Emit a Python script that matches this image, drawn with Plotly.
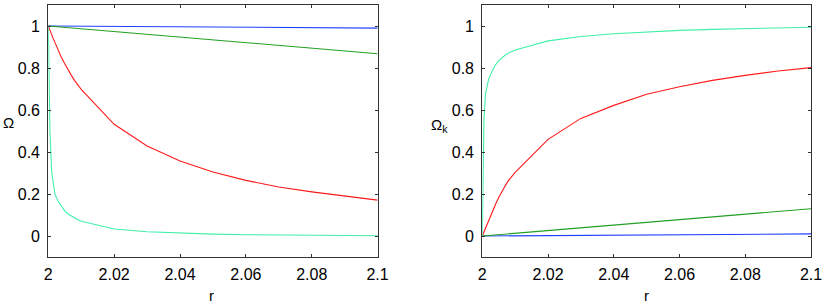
import plotly.graph_objects as go

# ---- data ----
r_fine = [2.0, 2.0002, 2.0005, 2.001, 2.0015, 2.002, 2.003, 2.004, 2.005, 2.006,
          2.007, 2.008, 2.009, 2.01, 2.02, 2.03, 2.04, 2.05, 2.06, 2.07, 2.08, 2.09, 2.1]
r_coarse = [2.0, 2.01, 2.02, 2.03, 2.04, 2.05, 2.06, 2.07, 2.08, 2.09, 2.1]

# left panel: Omega
omega_blue = [1.0, 0.999, 0.998, 0.997, 0.996, 0.995, 0.994, 0.993, 0.992, 0.991, 0.990]
omega_green = [1.0, 0.987, 0.974, 0.961, 0.948, 0.935, 0.922, 0.909, 0.895, 0.882, 0.868]
omega_red = [1.0, 0.99, 0.98, 0.96, 0.94, 0.92, 0.885, 0.85, 0.82, 0.79,
             0.765, 0.74, 0.716, 0.698, 0.532, 0.429, 0.357, 0.305, 0.265, 0.233, 0.21, 0.19, 0.171]
omega_cyan = [1.0, 0.75, 0.5, 0.31, 0.245, 0.2, 0.165, 0.14, 0.12, 0.105,
              0.095, 0.085, 0.077, 0.07, 0.033, 0.02, 0.013, 0.009, 0.006, 0.004, 0.003, 0.002, 0.001]

# right panel: Omega_k
omegak_blue = [0.0, 0.001, 0.002, 0.003, 0.004, 0.005, 0.006, 0.007, 0.008, 0.009, 0.010]
omegak_green = [0.0, 0.013, 0.026, 0.039, 0.052, 0.065, 0.078, 0.091, 0.104, 0.117, 0.130]
omegak_red = [0.0, 0.008, 0.02, 0.04, 0.06, 0.078, 0.115, 0.15, 0.183, 0.213,
              0.24, 0.265, 0.285, 0.303, 0.46, 0.56, 0.622, 0.675, 0.711, 0.741, 0.765, 0.786, 0.802]
omegak_cyan = [0.0, 0.32, 0.55, 0.68, 0.72, 0.75, 0.785, 0.815, 0.835, 0.85,
               0.862, 0.872, 0.879, 0.886, 0.929, 0.950, 0.963, 0.972, 0.979, 0.984, 0.988, 0.991, 0.994]

x_ticks = [2, 2.02, 2.04, 2.06, 2.08, 2.1]
x_ticklabels = ["2", "2.02", "2.04", "2.06", "2.08", "2.1"]
y_ticks = [0, 0.2, 0.4, 0.6, 0.8, 1]
y_ticklabels = ["0", "0.2", "0.4", "0.6", "0.8", "1"]

BLUE = "#2040ff"
GREEN = "#20a020"
RED = "#ff1a1a"
CYAN = "#40f0a8"

fig = go.Figure()

def add(x, y, color, xa, ya):
    fig.add_trace(go.Scatter(x=x, y=y, mode="lines", line=dict(color=color, width=1.1),
                             xaxis=xa, yaxis=ya, showlegend=False, hoverinfo="skip"))

add(r_coarse, omega_blue, BLUE, "x", "y")
add(r_coarse, omega_green, GREEN, "x", "y")
add(r_fine, omega_red, RED, "x", "y")
add(r_fine, omega_cyan, CYAN, "x", "y")

add(r_coarse, omegak_blue, BLUE, "x2", "y2")
add(r_coarse, omegak_green, GREEN, "x2", "y2")
add(r_fine, omegak_red, RED, "x2", "y2")
add(r_fine, omegak_cyan, CYAN, "x2", "y2")

W, H = 830, 308
ML, MR, MT, MB = 48, 19, 5, 51
PW, PH = W - ML - MR, H - MT - MB

def px(xpix):
    return (xpix - ML) / PW

def py(ypix):
    return 1 - (ypix - MT) / PH

FONT = "Liberation Sans, Arial, Helvetica"
axis_common = dict(showline=True, linecolor="#333333", linewidth=1.2, mirror="allticks",
                   ticks="inside", ticklen=3, tickcolor="#333333", showgrid=False,
                   zeroline=False, automargin=False,
                   tickfont=dict(family=FONT, size=16, color="black"))

fig.update_layout(
    width=W, height=H,
    margin=dict(l=ML, r=MR, t=MT, b=MB, pad=0),
    paper_bgcolor="white", plot_bgcolor="white",
    xaxis=dict(domain=[px(48.3), px(377.6)], range=[2, 2.1], tickvals=x_ticks,
               ticktext=x_ticklabels, anchor="y", ticklabelstandoff=3, **axis_common),
    yaxis=dict(domain=[0, 1], range=[-0.1, 1.1], tickvals=y_ticks, ticktext=y_ticklabels,
               anchor="x", ticklabelstandoff=4, **axis_common),
    xaxis2=dict(domain=[px(482.3), px(811)], range=[2, 2.1], tickvals=x_ticks,
                ticktext=x_ticklabels, anchor="y2", ticklabelstandoff=3, **axis_common),
    yaxis2=dict(domain=[0, 1], range=[-0.1, 1.1], tickvals=y_ticks, ticktext=y_ticklabels,
                anchor="x2", ticklabelstandoff=4, **axis_common),
)

font_t = dict(family=FONT, size=15, color="black")
fig.add_annotation(text="Ω", x=px(8.5), y=py(122), xref="paper", yref="paper",
                   showarrow=False, font=font_t, xanchor="center", yanchor="middle")
fig.add_annotation(text="Ω<sub>k</sub>", x=px(439), y=py(125), xref="paper", yref="paper",
                   showarrow=False, font=font_t, xanchor="center", yanchor="middle")
fig.add_annotation(text="r", x=px(211), y=py(295), xref="paper", yref="paper",
                   showarrow=False, font=font_t, xanchor="center", yanchor="middle")
fig.add_annotation(text="r", x=px(646), y=py(295), xref="paper", yref="paper",
                   showarrow=False, font=font_t, xanchor="center", yanchor="middle")

fig.write_html("out.html", config={"displayModeBar": False},
               post_script="document.body.style.margin='0';document.body.style.padding='0';")
